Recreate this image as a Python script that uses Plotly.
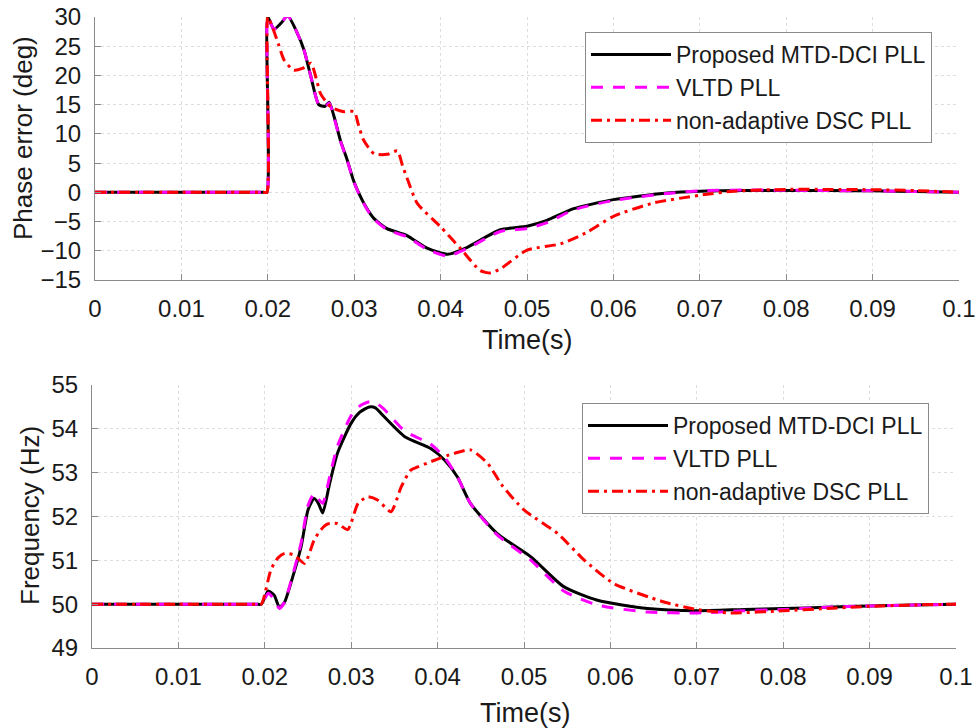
import plotly.graph_objects as go

# ---------------- data ----------------
# Top: phase error (deg)
t_ph_prop = [0, 0.01, 0.018, 0.019, 0.0195, 0.0199, 0.02, 0.0207, 0.0215, 0.0223, 0.0234, 0.0242, 0.025,
             0.0259, 0.0266, 0.0271, 0.0277, 0.0284, 0.0292, 0.0299, 0.0304, 0.0314, 0.0323, 0.0338,
             0.0361, 0.0385, 0.0408, 0.0431, 0.0469, 0.050, 0.0523, 0.0554, 0.060, 0.0662, 0.070,
             0.075, 0.080, 0.085, 0.090, 0.095, 0.1]
ph_prop = [0, 0, 0, 0, 0, 0, 30, 27.9, 28.9, 30.2, 27.3, 24.3, 19.7,
           15.0, 14.7, 15.4, 12.8, 8.9, 5.5, 2.1, 0.3, -2.6, -4.5, -6.2,
           -7.4, -9.6, -10.6, -9.4, -6.4, -5.8, -4.8, -2.8, -1.25, -0.1, 0.2,
           0.3, 0.3, 0.3, 0.25, 0.15, 0.0]

t_ph_vltd = t_ph_prop
ph_vltd = [0, 0, 0, 0, 0, 0, 30, 27.9, 28.9, 30.2, 27.3, 24.3, 19.7,
           15.0, 14.6, 15.3, 12.6, 8.8, 5.4, 2.0, 0.2, -2.7, -4.6, -6.4,
           -7.6, -9.8, -10.9, -9.6, -6.7, -6.2, -5.2, -3.0, -1.4, -0.2, 0.25,
           0.4, 0.35, 0.3, 0.25, 0.15, 0.0]

t_ph_dsc = [0, 0.01, 0.018, 0.019, 0.0195, 0.0199, 0.02, 0.0206, 0.0212, 0.0219, 0.023, 0.024, 0.025,
            0.0256, 0.0261, 0.0273, 0.0288, 0.030, 0.0305, 0.0311, 0.0323, 0.0338, 0.035, 0.0356,
            0.0362, 0.0373, 0.040, 0.0423, 0.0446, 0.0458, 0.047, 0.050, 0.0539, 0.057, 0.060,
            0.0647, 0.070, 0.0739, 0.080, 0.085, 0.090, 0.095, 0.1]
ph_dsc = [0, 0, 0, 0, 0, 0, 30, 28, 25.5, 22.6, 20.9, 21.2, 22.1,
          19.5, 16.9, 14.6, 13.8, 13.8, 11.5, 8.9, 6.6, 6.5, 7.1, 4.5,
          2.1, -1.9, -5.9, -9.6, -13.4, -13.8, -13.0, -9.9, -8.8, -6.8, -4.1,
          -1.8, -0.5, 0.2, 0.5, 0.5, 0.45, 0.3, 0.0]

# Bottom: frequency (Hz)
t_f = [0, 0.01, 0.018, 0.019, 0.0196, 0.0204, 0.0211, 0.0217, 0.0223, 0.023, 0.0242, 0.025, 0.0257,
       0.0262, 0.0267, 0.0275, 0.0284, 0.030, 0.031, 0.0321, 0.0328, 0.0338, 0.0362, 0.0392,
       0.0408, 0.0423, 0.0438, 0.0469, 0.0508, 0.0546, 0.0585, 0.0643, 0.070, 0.0755, 0.080,
       0.085, 0.090, 0.095, 0.1]
f_prop = [50, 50, 50, 50, 50, 50.3, 50.2, 49.92, 50.05, 50.47, 51.31, 52.15, 52.41,
          52.3, 52.08, 52.75, 53.44, 54.13, 54.38, 54.5, 54.48, 54.28, 53.82, 53.55,
          53.29, 52.9, 52.3, 51.61, 51.08, 50.4, 50.09, 49.9, 49.85, 49.88, 49.9,
          49.93, 49.96, 49.98, 50.0]
f_vltd = [50, 50, 50, 50, 50, 50.25, 50.1, 49.9, 50.05, 50.5, 51.4, 52.25, 52.52,
          52.4, 52.3, 52.9, 53.6, 54.3, 54.52, 54.62, 54.6, 54.45, 53.95, 53.65,
          53.35, 52.9, 52.3, 51.58, 51.0, 50.3, 49.98, 49.82, 49.8, 49.85, 49.88,
          49.93, 49.96, 49.98, 50.0]

t_f_dsc = [0, 0.01, 0.018, 0.019, 0.0196, 0.0207, 0.0215, 0.0223, 0.0234, 0.0246, 0.0257, 0.0265,
           0.0273, 0.0284, 0.0296, 0.0308, 0.0319, 0.0331, 0.0346, 0.0358, 0.0369, 0.0377, 0.0392,
           0.0419, 0.0438, 0.0458, 0.0475, 0.050, 0.0539, 0.057, 0.0604, 0.0662, 0.070, 0.0739,
           0.080, 0.085, 0.090, 0.095, 0.1]
f_dsc = [50, 50, 50, 50, 50, 50.78, 51.05, 51.16, 51.12, 50.93, 51.46, 51.7,
         51.83, 51.84, 51.7, 52.3, 52.45, 52.37, 52.11, 52.68, 53.06, 53.13, 53.25,
         53.44, 53.52, 53.21, 52.7, 52.15, 51.61, 51.0, 50.47, 50.05, 49.88, 49.8,
         49.85, 49.9, 49.95, 49.98, 50.0]

names = ["Proposed MTD-DCI PLL", "VLTD PLL", "non-adaptive DSC PLL"]
x_ticks = [0, 0.01, 0.02, 0.03, 0.04, 0.05, 0.06, 0.07, 0.08, 0.09, 0.1]
x_ticktext = ["0", "0.01", "0.02", "0.03", "0.04", "0.05", "0.06", "0.07", "0.08", "0.09", "0.1"]
ph_ticks = [-15, -10, -5, 0, 5, 10, 15, 20, 25, 30]
f_ticks = [49, 50, 51, 52, 53, 54, 55]

# ---------------- styles / layout ----------------
FONT = "Liberation Sans, Arial, sans-serif"
W, H = 975, 728
styles = [
    dict(color="black", width=3, dash="solid"),
    dict(color="#ff00ff", width=3, dash="12px,10px"),
    dict(color="#ff0000", width=3, dash="11px,5px,3px,5px"),
]

fig = go.Figure()

top = [(t_ph_prop, ph_prop), (t_ph_vltd, ph_vltd), (t_ph_dsc, ph_dsc)]
bot = [(t_f, f_prop), (t_f, f_vltd), (t_f_dsc, f_dsc)]
for i, (tx, ty) in enumerate(top):
    fig.add_trace(go.Scatter(x=tx, y=ty, mode="lines", name=names[i],
                             line=dict(**styles[i], shape="spline", smoothing=0.6),
                             xaxis="x", yaxis="y", legend="legend"))
for i, (tx, ty) in enumerate(bot):
    fig.add_trace(go.Scatter(x=tx, y=ty, mode="lines", name=names[i],
                             line=dict(**styles[i], shape="spline", smoothing=0.6),
                             xaxis="x2", yaxis="y2", legend="legend2"))

def px_x(px):
    # screen pixel -> paper fraction
    return px / W

def px_y(py):
    return 1 - py / H

axis_common = dict(
    showline=True, linecolor="#8a8a8a", linewidth=1,
    ticks="inside", ticklen=6, tickcolor="#8a8a8a",
    showgrid=True, gridcolor="#dedede", griddash="3px,3px", gridwidth=1,
    zeroline=False, tickfont=dict(family=FONT, size=24, color="#1a1a1a"),
    mirror=False, automargin=False, ticklabeloverflow="allow",
)

title_font = dict(family=FONT, size=27, color="#1a1a1a")

fig.update_layout(
    width=W, height=H,
    margin=dict(l=0, r=0, t=0, b=0, autoexpand=False),
    paper_bgcolor="white", plot_bgcolor="white",
    font=dict(family=FONT, color="#1a1a1a"),
    xaxis=dict(domain=[px_x(95), px_x(959)], range=[0, 0.1], tickvals=x_ticks, ticktext=x_ticktext,
               anchor="y", ticklabelstandoff=7, **axis_common),
    yaxis=dict(domain=[px_y(280), px_y(17)], range=[-15, 30], tickvals=ph_ticks,
               anchor="x", ticklabelstandoff=8, **axis_common),
    xaxis2=dict(domain=[px_x(92), px_x(956)], range=[0, 0.1], tickvals=x_ticks, ticktext=x_ticktext,
                anchor="y2", ticklabelstandoff=7, **axis_common),
    yaxis2=dict(domain=[px_y(648), px_y(385)], range=[49, 55], tickvals=f_ticks,
                anchor="x2", ticklabelstandoff=8, **axis_common),
    legend=dict(x=px_x(585), y=px_y(32), xanchor="left", yanchor="top",
                bgcolor="white", bordercolor="#8a8a8a", borderwidth=1,
                font=dict(family=FONT, size=23, color="#1a1a1a"), itemwidth=80),
    legend2=dict(x=px_x(582), y=px_y(403), xanchor="left", yanchor="top",
                 bgcolor="white", bordercolor="#8a8a8a", borderwidth=1,
                 font=dict(family=FONT, size=23, color="#1a1a1a"), itemwidth=80),
    annotations=[
        dict(text="Time(s)", x=px_x(527), y=px_y(340), xref="paper", yref="paper", showarrow=False,
             xanchor="center", yanchor="middle", font=title_font),
        dict(text="Time(s)", x=px_x(525), y=px_y(713), xref="paper", yref="paper", showarrow=False,
             xanchor="center", yanchor="middle", font=title_font),
        dict(text="Phase error (deg)", x=px_x(23), y=px_y(138), xref="paper", yref="paper", showarrow=False,
             xanchor="center", yanchor="middle", textangle=-90, font=dict(family=FONT, size=26, color="#1a1a1a")),
        dict(text="Frequency (Hz)", x=px_x(30), y=px_y(516), xref="paper", yref="paper", showarrow=False,
             xanchor="center", yanchor="middle", textangle=-90, font=dict(family=FONT, size=26, color="#1a1a1a")),
    ],
)

fig.write_html("out.html",
               config={"displayModeBar": False},
               post_script="document.body.style.margin='0';document.body.style.overflow='hidden';")
